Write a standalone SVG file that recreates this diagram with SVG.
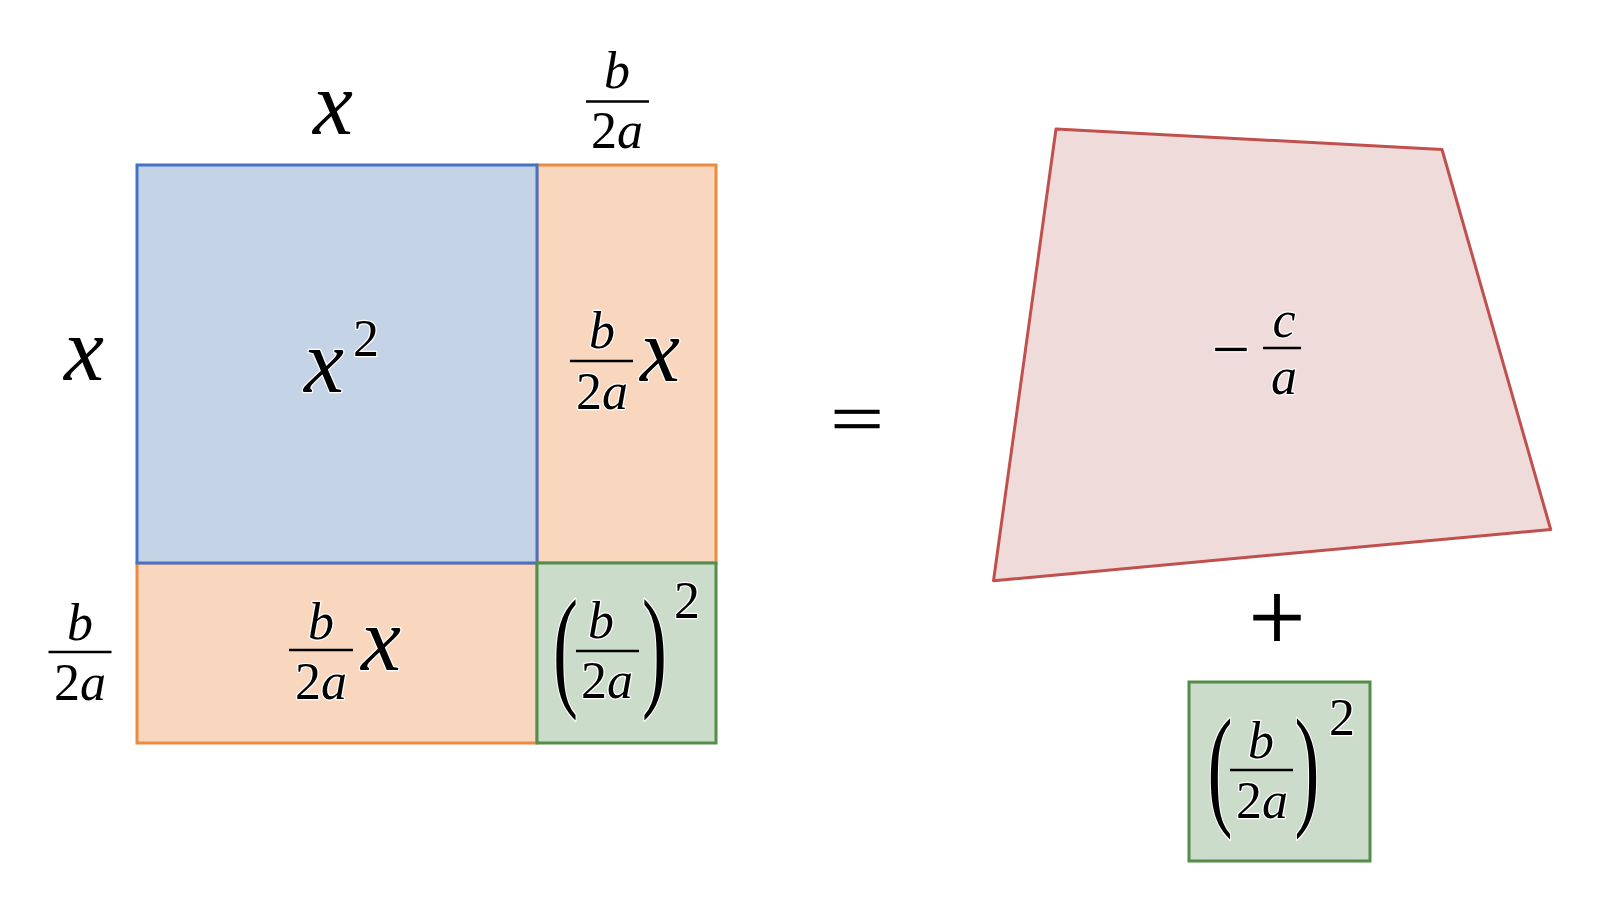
<svg xmlns="http://www.w3.org/2000/svg" width="1606" height="924" viewBox="0 0 1606 924">
<style>
.m{font-family:"Liberation Serif","Times New Roman",serif;fill:#000;stroke:#fff;stroke-width:2.5;paint-order:stroke;stroke-linejoin:round}
.i{font-style:italic}
.big{font-size:90px}
.f{font-size:52px}
.bar{stroke:#000;stroke-width:2.5}
.op{font-family:"Liberation Serif","Times New Roman",serif;font-size:100px;fill:#000;stroke:#000;stroke-width:0.8}
.blue{fill:#C5D3E6;stroke:#4472C4;stroke-width:3}
.orange{fill:#F8D7BE;stroke:#EE8A40;stroke-width:3}
.green{fill:#CCDCCA;stroke:#548C4A;stroke-width:3}
.pink{fill:#F0DBDB;stroke:#C0504D;stroke-width:3;stroke-linejoin:round}
</style>
<rect width="1606" height="924" fill="#fff"/>

<g id="orange-right">
<rect class="orange" x="537" y="165" width="179" height="398"/>
<text class="m i f" x="602" y="348" text-anchor="middle">b</text>
<line class="bar" x1="570" y1="361" x2="633" y2="361"/>
<text class="m f" x="602" y="409" text-anchor="middle">2<tspan class="i">a</tspan></text>
<text class="m i big" x="640" y="381">x</text>
</g>

<g id="orange-bottom">
<rect class="orange" x="137" y="563" width="400" height="180"/>
<text class="m i f" x="321" y="639" text-anchor="middle">b</text>
<line class="bar" x1="289" y1="650" x2="353" y2="650"/>
<text class="m f" x="321" y="699" text-anchor="middle">2<tspan class="i">a</tspan></text>
<text class="m i big" x="361" y="670">x</text>
</g>

<g id="blue-square">
<rect class="blue" x="137" y="165" width="400" height="398"/>
<text class="m i big" x="304" y="392">x</text>
<text class="m f" x="353" y="356">2</text>
</g>

<g id="green-square">
<rect class="green" x="537" y="563" width="179" height="180"/>
<text class="m" font-size="100" text-anchor="middle" transform="translate(565.5,692) scale(0.75,1.34)">(</text>
<text class="m i f" x="601" y="638" text-anchor="middle">b</text>
<line class="bar" x1="576" y1="651" x2="639" y2="651"/>
<text class="m f" x="607" y="698" text-anchor="middle">2<tspan class="i">a</tspan></text>
<text class="m" font-size="100" text-anchor="middle" transform="translate(654.5,692) scale(0.75,1.34)">)</text>
<text class="m f" x="674" y="618">2</text>
</g>

<g id="label-top-x">
<text class="m i big" x="333" y="134" text-anchor="middle">x</text>
</g>
<g id="label-top-frac">
<text class="m i f" x="617" y="88" text-anchor="middle">b</text>
<line class="bar" x1="586" y1="101.5" x2="649" y2="101.5"/>
<text class="m f" x="617" y="148" text-anchor="middle">2<tspan class="i">a</tspan></text>
</g>
<g id="label-left-x">
<text class="m i big" x="84" y="380" text-anchor="middle">x</text>
</g>
<g id="label-left-frac">
<text class="m i f" x="80" y="640" text-anchor="middle">b</text>
<line class="bar" x1="48.5" y1="652" x2="111.5" y2="652"/>
<text class="m f" x="80" y="700" text-anchor="middle">2<tspan class="i">a</tspan></text>
</g>

<g id="equals">
<text class="op" text-anchor="middle" transform="translate(857,443) scale(0.95,0.72)">=</text>
</g>

<g id="quad">
<polygon class="pink" points="1056,129 1442,149.5 1550.7,529.5 993.5,580.7"/>
<text class="m" font-size="68" x="1231" y="372" text-anchor="middle">−</text>
<text class="m i f" x="1284" y="337" text-anchor="middle">c</text>
<line class="bar" x1="1263" y1="348" x2="1301" y2="348"/>
<text class="m i f" x="1284" y="394" text-anchor="middle">a</text>
</g>

<g id="plus">
<text class="op" x="1277" y="651" text-anchor="middle" font-size="104">+</text>
</g>

<g id="green-box">
<rect class="green" x="1189" y="682" width="181" height="179"/>
<text class="m" font-size="100" text-anchor="middle" transform="translate(1220,811) scale(0.75,1.34)">(</text>
<text class="m i f" x="1261" y="758" text-anchor="middle">b</text>
<line class="bar" x1="1230" y1="770" x2="1293" y2="770"/>
<text class="m f" x="1262" y="818" text-anchor="middle">2<tspan class="i">a</tspan></text>
<text class="m" font-size="100" text-anchor="middle" transform="translate(1307,811) scale(0.75,1.34)">)</text>
<text class="m f" x="1329" y="735">2</text>
</g>

<g id="connectors"></g>
</svg>
